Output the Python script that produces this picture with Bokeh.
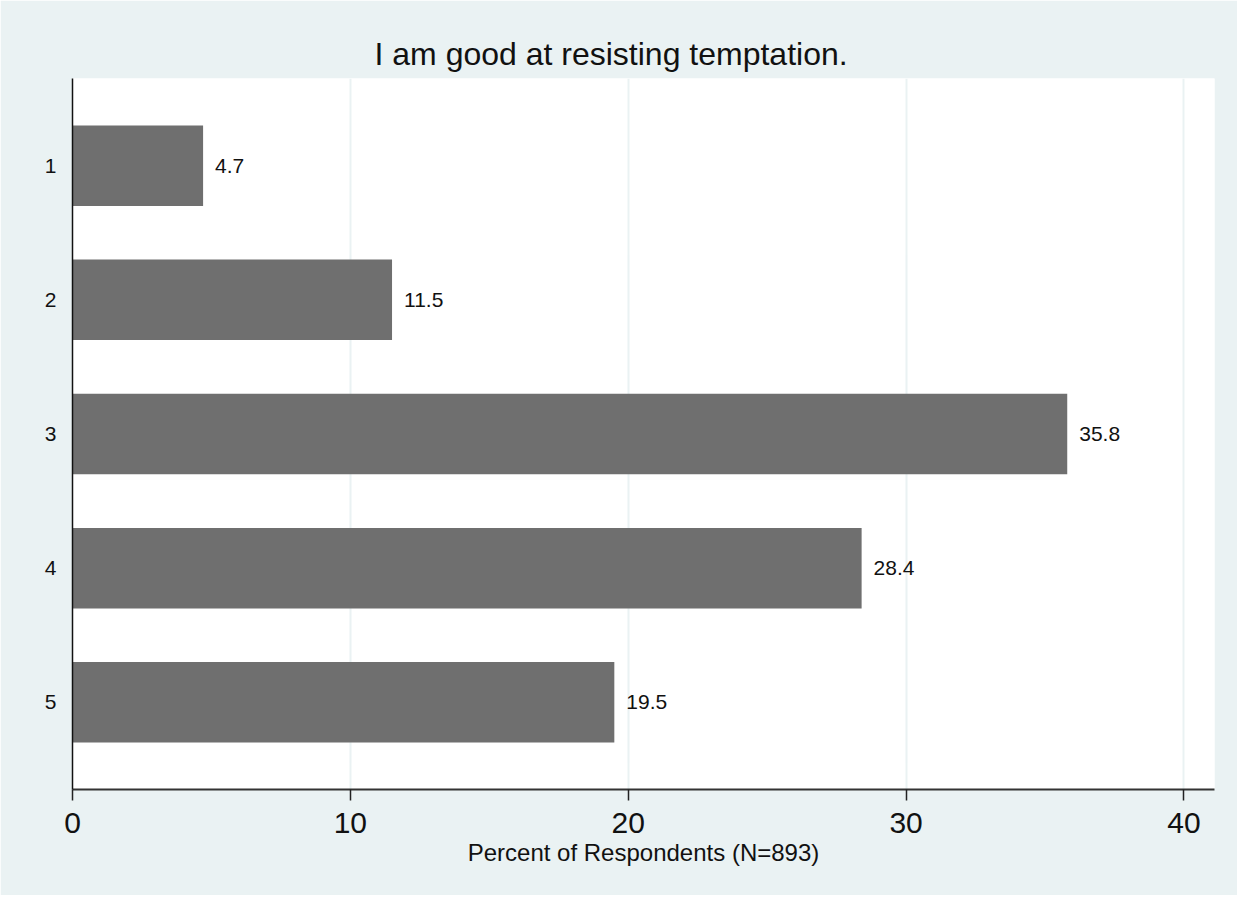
from bokeh.plotting import figure
from bokeh.models import Range1d, FixedTicker, ColumnDataSource, LabelSet
from bokeh.core.properties import value
from bokeh.embed import file_html
from bokeh.resources import INLINE

# Data
categories = ["1", "2", "3", "4", "5"]
positions = [1, 2, 3, 4, 5]
percents = [4.7, 11.5, 35.8, 28.4, 19.5]
x_ticks = [0, 10, 20, 30, 40]
title_text = "I am good at resisting temptation."
x_title = "Percent of Respondents (N=893)"

FONT = "Liberation Sans"
BG = "#eaf2f3"

src = ColumnDataSource(dict(
    y=positions,
    v=percents,
    lab=["%.1f" % v for v in percents],
))

p = figure(
    width=1237, height=895,
    x_range=Range1d(0, 41.1),
    y_range=Range1d(5.65, 0.35),
    output_backend="svg",
    toolbar_location=None,
    min_border_left=72, min_border_right=23,
    min_border_top=78, min_border_bottom=106,
)
p.border_fill_color = BG
p.background_fill_color = "white"
p.outline_line_color = None

p.hbar(y="y", right="v", left=0, height=0.6, source=src,
       fill_color="#6f6f6f", line_color=None)

labels = LabelSet(x="v", y="y", text="lab", source=src, x_offset=12,
                  text_baseline="middle", text_align="left",
                  text_font=value(FONT), text_font_size=value("21px"),
                  text_color="#111111")
p.add_layout(labels)

# Title
p.title.text = title_text
p.title.align = "left"
p.title.offset = 302
p.title.text_font = FONT
p.title.text_font_size = "32px"
p.title.text_font_style = "normal"
p.title.text_color = "#111111"
p.title.standoff = 14

# X axis
xa = p.xaxis[0]
xa.ticker = FixedTicker(ticks=x_ticks)
xa.minor_tick_line_color = None
xa.major_tick_in = 0
xa.major_tick_out = 11
xa.major_tick_line_color = "#222222"
xa.major_tick_line_width = 1.5
xa.axis_line_color = "#333333"
xa.axis_line_width = 2
xa.major_label_text_font = FONT
xa.major_label_text_font_size = "30px"
xa.major_label_text_color = "#111111"
xa.major_label_standoff = 12
xa.axis_label = x_title
xa.axis_label_text_font = FONT
xa.axis_label_text_font_size = "24px"
xa.axis_label_text_font_style = "normal"
xa.axis_label_text_color = "#111111"
xa.axis_label_standoff = 3

# Y axis
ya = p.yaxis[0]
ya.ticker = FixedTicker(ticks=positions)
ya.major_label_overrides = {pos: c for pos, c in zip(positions, categories)}
ya.minor_tick_line_color = None
ya.major_tick_in = 0
ya.major_tick_out = 0
ya.major_tick_line_color = None
ya.axis_line_color = "#111111"
ya.axis_line_width = 1.5
ya.major_label_text_font = FONT
ya.major_label_text_font_size = "21px"
ya.major_label_text_color = "#111111"
ya.major_label_standoff = 16

# Grid
p.xgrid.ticker = FixedTicker(ticks=x_ticks)
p.xgrid.grid_line_color = BG
p.xgrid.grid_line_width = 2
p.ygrid.grid_line_color = None

open("out.html", "w").write(file_html(p, INLINE))
